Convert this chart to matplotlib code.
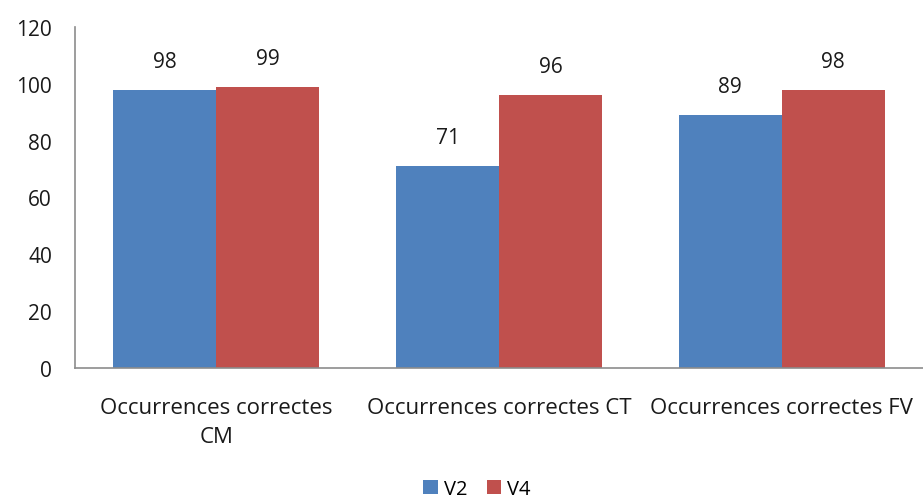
import matplotlib
matplotlib.use("Agg")
import matplotlib.pyplot as plt
import numpy as np

categories = ["Occurrences correctes\nCM", "Occurrences correctes CT", "Occurrences correctes FV"]
v2 = [98, 71, 89]
v4 = [99, 96, 98]
series_names = ["V2", "V4"]
yticks = [0, 20, 40, 60, 80, 100, 120]

plt.rcParams['font.family'] = ['Open Sans', 'DejaVu Sans']
FS = 14.5

fig = plt.figure(figsize=(9.23, 5.02), dpi=100)
ax = fig.add_axes([75/923, 133/502, 1 - 75/923, 341/502])

x = np.arange(len(categories))
w = 0.364
b1 = ax.bar(x - w/2, v2, w, color="#4F81BD", label=series_names[0])
b2 = ax.bar(x + w/2, v4, w, color="#C0504D", label=series_names[1])

for bars, vals in ((b1, v2), (b2, v4)):
    for r, v in zip(bars, vals):
        ax.text(r.get_x() + r.get_width()/2, v + 10, str(v), ha="center", va="center",
                fontsize=15, color="#1a1a1a")

ax.set_xlim(-0.5, 2.5)
ax.set_ylim(0, 120)
ax.set_yticks(yticks)
ax.set_xticks(x)
ax.set_xticklabels(categories, fontsize=16, linespacing=1.5, color="#1a1a1a")
ax.tick_params(axis="y", length=0, labelsize=15, pad=16.5, labelcolor="#1a1a1a")
ax.tick_params(axis="x", length=0, pad=21)
for s in ["top", "right"]:
    ax.spines[s].set_visible(False)
for s in ["left", "bottom"]:
    ax.spines[s].set_color("#8C8C8C")
    ax.spines[s].set_linewidth(1.2)

fig.legend(handles=[b1, b2], labels=series_names, loc="center", bbox_to_anchor=(0.517, 1 - 490/502),
           ncol=2, frameon=False, fontsize=FS, handlelength=0.7, handleheight=0.7,
           handletextpad=0.3, columnspacing=1.0)

fig.savefig("out.png", dpi=100)
